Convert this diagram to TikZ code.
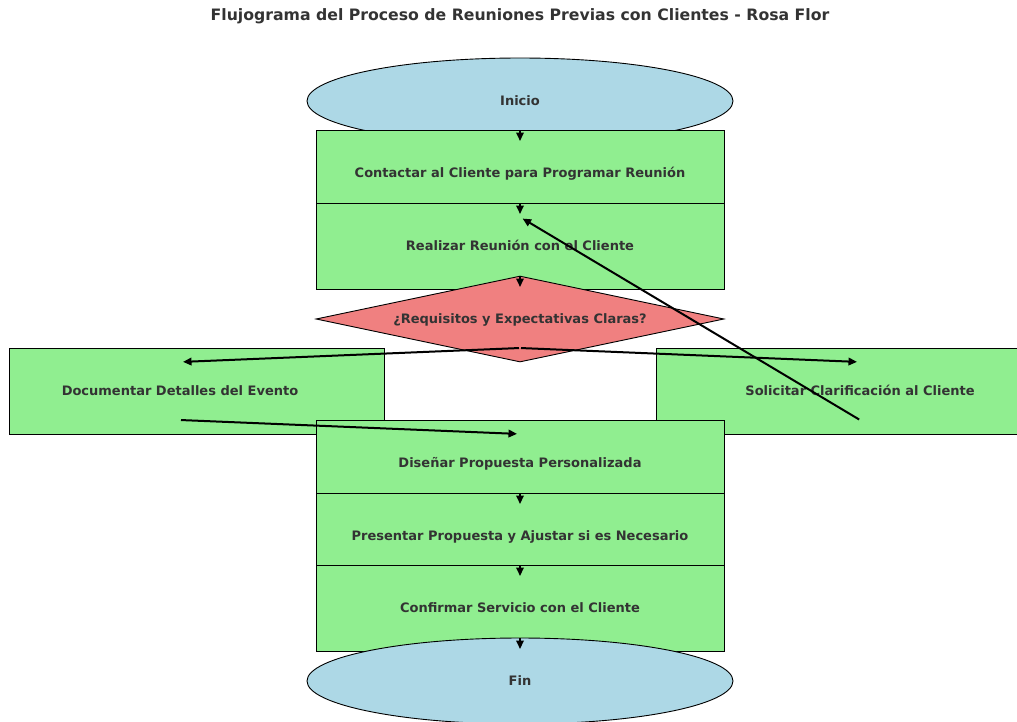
\documentclass[tikz,border=0pt]{standalone}
\usepackage{fontspec}
\setmainfont{DejaVu Sans}
\usetikzlibrary{shapes.geometric,arrows.meta,calc}

\definecolor{termblue}{HTML}{ADD8E6}
\definecolor{boxgreen}{HTML}{90EE90}
\definecolor{deccoral}{HTML}{F08080}
\definecolor{labelgray}{HTML}{333333}

\tikzset{
  lbl/.style={font=\bfseries\fontsize{13}{15}\selectfont, text=labelgray,
    text height=9.5pt, text depth=0pt},
  stepbox/.style={rectangle, draw=black, line width=0.9pt, fill=boxgreen,
    minimum width=408pt, minimum height=86pt, inner sep=0pt, lbl},
  sidebox/.style={rectangle, draw=black, line width=0.9pt, fill=boxgreen,
    minimum height=86pt, inner sep=0pt},
  term/.style={ellipse, draw=black, line width=0.9pt, fill=termblue,
    minimum width=426pt, minimum height=86pt, inner sep=0pt, lbl},
  decision/.style={diamond, draw=black, line width=0.9pt, fill=deccoral,
    shape aspect=4.74, minimum width=408pt, minimum height=86pt, inner sep=0pt, lbl},
  arr/.style={-{Triangle[length=8.5pt,width=7.5pt]}, line width=2pt, black,
    shorten >=3pt, shorten <=1pt}
}

\begin{document}
\begin{tikzpicture}[x=1pt,y=-1pt]
  \useasboundingbox (0,0) rectangle (1017,721);
  \clip (0,0) rectangle (1017,721);

  % title
  \node[font=\bfseries\fontsize{15.7}{18}\selectfont, text=labelgray] (title) at (520,16)
    {Flujograma del Proceso de Reuniones Previas con Clientes - Rosa Flor};

  % main column, drawn top to bottom so each shape overlaps the previous one
  \node[term] (inicio) at (520,101) {Inicio};
  \node[stepbox] (contactar) at (520,173) {Contactar al Cliente para Programar Reunión};
  \node[stepbox] (realizar) at (520,246) {Realizar Reunión con el Cliente};
  \node[decision] (claras) at (520,319) {¿Requisitos y Expectativas Claras?};

  % side branches
  \node[sidebox, minimum width=375pt] (docbox) at (196.5,391) {};
  \node[lbl] (documentar) at (180,391) {Documentar Detalles del Evento};
  \node[sidebox, minimum width=408pt] (solbox) at (860,391) {};
  \node[lbl] (solicitar) at (860,391) {Solicitar Clarificación al Cliente};

  \node[stepbox] (disenar) at (520,463) {Diseñar Propuesta Personalizada};
  \node[stepbox] (presentar) at (520,536) {Presentar Propuesta y Ajustar si es Necesario};
  \node[stepbox] (confirmar) at (520,608) {Confirmar Servicio con el Cliente};
  \node[term] (fin) at (520,681) {Fin};

  % arrow ends, just below and above each label
  \foreach \n in {inicio,contactar,realizar,claras,documentar,solicitar,disenar,presentar,confirmar,fin}{
    \coordinate (\n-out) at ($(\n.center)+(0,29)$);
    \coordinate (\n-in) at ($(\n.center)+(0,-29)$);
  }

  % connectors
  \draw[arr] (inicio-out) -- (contactar-in);
  \draw[arr] (contactar-out) -- (realizar-in);
  \draw[arr] (realizar-out) -- (claras-in);
  \draw[arr] (claras-out) -- (documentar-in);
  \draw[arr] (claras-out) -- (solicitar-in);
  \draw[arr] (documentar-out) -- (disenar-in);
  \draw[arr] (solicitar-out) -- (realizar-in);
  \draw[arr] (disenar-out) -- (presentar-in);
  \draw[arr] (presentar-out) -- (confirmar-in);
  \draw[arr] (confirmar-out) -- (fin-in);
\end{tikzpicture}
\end{document}
